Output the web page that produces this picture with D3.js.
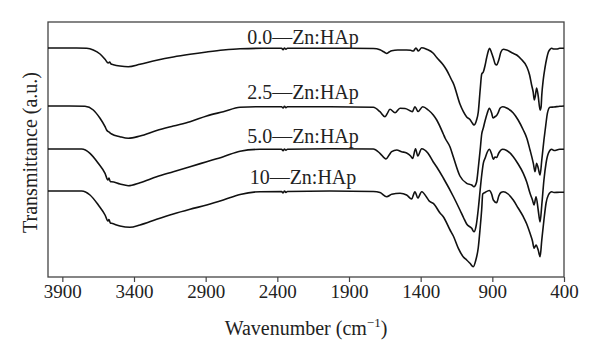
<!DOCTYPE html>
<html>
<head>
<meta charset="utf-8">
<script src="https://cdn.jsdelivr.net/npm/d3@7"></script>
<style>
  html, body { margin: 0; padding: 0; background: #fff; }
  svg text { font-family: "Liberation Serif", "DejaVu Serif", serif; fill: #222; }
</style>
</head>
<body>
<svg id="chart" width="600" height="360"></svg>
<script>
// ---- data (wavenumber cm^-1, transmittance a.u., offset stacked) ----
const seriesNames = ["0.0—Zn:HAp", "2.5—Zn:HAp", "5.0—Zn:HAp", "10—Zn:HAp"];
const xTicks = [3900, 3400, 2900, 2400, 1900, 1400, 900, 400];
const labelLevels = [233.5, 178.5, 134.5, 93.5];

const spec00 = [
  [4000,229],[3900,229],[3800,229],[3730,228.7],[3684,227],[3637,223],[3602,217.7],[3580,214],[3570,215],[3560,213],
  [3544,212.3],[3498,211],[3440,210.3],[3358,212.7],[3242,216.7],[3126,220],[3009,222.7],[2893,225],[2777,227],[2660,228.3],
  [2500,228.7],[2370,228.7],[2360,227.2],[2350,229],[2340,227.7],[2330,228.7],[2100,228.7],[1900,228.7],[1730,228.5],[1684,227.2],
  [1650,224.5],[1637,223.5],[1620,225],[1602,226.3],[1560,227],[1498,227],[1470,226.7],[1451,226],[1433,229],[1416,226],
  [1393,229.3],[1358,227.7],[1312,223.7],[1288,219.5],[1242,212],[1219,207],[1184,197],[1172,193.7],[1126,173],[1102,165.3],
  [1079,160],[1056,157.5],[1040,154],[1028,152],[1010,157],[998,165],[985,187],[974,203],[963,205],[950,212],
  [940,219],[928,226],[919,228.7],[905,224],[893,219],[880,213],[870,212],[855,217],[840,225],[823,227.7],
  [800,227],[760,224],[730,222],[700,218],[660,210.3],[640,202],[626,192],[615,185],[607,177],[600,181],
  [591,189],[580,181],[567,167],[560,170],[555,182],[545,197],[533,209],[520,219],[509,225],[495,228],
  [486,228.7],[470,228],[451,228],[430,228.7],[400,228.7]
];
const spec25 = [
  [4000,171],[3850,171],[3742,170.7],[3684,167],[3637,158.7],[3602,150.3],[3591,147],[3570,144.5],[3556,143],[3498,140.3],
  [3440,138.7],[3358,141],[3242,146.5],[3126,151],[3009,155.3],[2893,161],[2777,165.3],[2660,169.7],[2550,170.3],[2370,170.3],
  [2360,169],[2350,170.7],[2340,169.3],[2330,170.3],[2033,170.3],[1730,169.7],[1684,165.3],[1649,160.3],[1635,163],[1614,167.7],
  [1579,164.3],[1544,168.7],[1509,168.5],[1474,166.3],[1458,165.3],[1440,170.3],[1418,165.5],[1386,170.3],[1347,167],[1312,162],
  [1288,157],[1242,143],[1230,139],[1195,130],[1172,120],[1126,101],[1079,93.7],[1044,92],[1028,90.3],[1010,95],
  [998,109],[985,127],[974,143],[963,149],[951,156],[935,164],[921,168.7],[905,164],[895,159],[880,160.5],
  [870,161.5],[860,164],[845,169],[828,170.3],[800,169],[754,164],[720,157],[684,147],[660,139],[637,127],
  [614,113.7],[602,105.3],[591,113.7],[580,109],[567,102],[555,117],[540,137],[527,152],[516,163.7],[498,169.7],
  [470,170],[430,170.7],[400,171]
];
const spec50 = [
  [4000,128],[3765,128],[3707,123.7],[3649,113.7],[3602,103.7],[3582,97],[3575,99],[3565,95.3],[3556,95.3],[3498,93],
  [3440,91.3],[3358,94.3],[3242,100.3],[3126,105.3],[3009,110.3],[2893,115.3],[2777,120.3],[2660,125.8],[2521,127.7],[2370,127.7],
  [2360,126.2],[2350,128],[2340,126.7],[2330,127.7],[2033,128.3],[1730,128],[1684,123.7],[1642,118],[1620,122],[1602,125.3],
  [1567,127],[1533,125.3],[1498,124],[1470,121],[1456,118.5],[1436,128.3],[1420,121],[1393,128.3],[1350,124],[1312,115],
  [1288,110],[1242,99],[1172,80.5],[1126,67],[1100,59],[1079,53],[1044,48.7],[1028,45.3],[1012,52],[998,68],
  [985,87],[974,102],[963,113.7],[950,119],[935,125],[921,127.7],[905,123],[893,117.7],[882,120],[870,119.5],
  [855,124],[828,127.7],[800,126.5],[754,120.3],[720,113],[684,103.7],[660,95],[637,83.7],[620,77],[609,72],
  [595,80.3],[580,67],[567,55],[555,72],[540,97],[525,114],[509,123.7],[486,127.7],[470,126.5],[430,127.7],
  [400,127.7]
];
const spec10 = [
  [4000,86],[3765,86],[3707,82],[3649,72],[3602,62],[3582,56],[3575,57.5],[3565,54],[3556,53.7],[3498,51],
  [3428,49.7],[3358,52],[3242,57.7],[3126,63],[3009,67.7],[2893,72],[2777,77],[2660,82.5],[2521,85.3],[2370,85.5],
  [2360,84],[2350,86],[2340,84.5],[2330,85.5],[2033,86],[1730,85.5],[1684,84.5],[1637,80.3],[1602,82.7],[1544,83.7],
  [1498,82],[1463,78],[1440,85.3],[1420,79],[1393,85.3],[1335,75.3],[1312,73.7],[1265,64],[1242,60.3],[1195,47],
  [1172,41],[1137,28.7],[1102,20],[1079,17],[1056,13.7],[1033,10.3],[1015,17],[998,29.5],[985,49],[974,68],
  [967,83],[951,84.5],[921,86.5],[905,83],[893,77],[870,74.3],[855,81],[840,84.5],[823,85.3],[790,83],
  [754,77],[720,69],[684,60.3],[660,53],[637,43.7],[620,36],[609,28.7],[595,32],[580,27],[567,20.3],
  [555,37],[540,57],[525,74],[509,82],[486,85.3],[470,84.5],[430,84.7],[400,84.7]
];
const spectra = [spec00, spec25, spec50, spec10];

// ---- layout ----
const W = 600, H = 360;
const m = { left: 48, right: 36, top: 22, bottom: 83 };
const svg = d3.select("#chart");

const x = d3.scaleLinear().domain([4000, 400]).range([m.left, W - m.right]);
const y = d3.scaleLinear().domain([0, 255]).range([H - m.bottom, m.top]);

// frame
svg.append("rect")
  .attr("x", m.left).attr("y", m.top)
  .attr("width", W - m.left - m.right).attr("height", H - m.top - m.bottom)
  .attr("fill", "none").attr("stroke", "#444").attr("stroke-width", 1.3);

// x axis
const xAxis = d3.axisBottom(x).tickValues(xTicks).tickSize(5).tickPadding(3).tickFormat(d3.format("d"));
const gx = svg.append("g").attr("transform", `translate(0,${H - m.bottom})`).call(xAxis);
gx.select(".domain").remove();
gx.selectAll(".tick line").attr("stroke", "#444").attr("stroke-width", 1.2);
gx.selectAll(".tick text").style("font-family", '"Liberation Serif", serif').style("font-size", "19px").attr("fill", "#222");

// lines
const line = d3.line().x(d => x(d[0])).y(d => y(d[1])).curve(d3.curveMonotoneX);
svg.append("g").selectAll("path").data(spectra).join("path")
  .attr("d", line)
  .attr("fill", "none").attr("stroke", "#111").attr("stroke-width", 1.6).attr("stroke-linejoin", "round");

// series labels
svg.append("g").selectAll("text").data(seriesNames).join("text")
  .attr("x", 303).attr("y", (d, i) => y(labelLevels[i]))
  .attr("text-anchor", "middle").style("font-size", "20px")
  .text(d => d);

// axis titles
const xt = svg.append("text").attr("x", (m.left + W - m.right) / 2).attr("y", 335)
  .attr("text-anchor", "middle").style("font-size", "20px");
xt.append("tspan").text("Wavenumber (cm");
xt.append("tspan").attr("dy", -8).style("font-size", "13px").text("−1");
xt.append("tspan").attr("dy", 8).text(")");

svg.append("text")
  .attr("transform", `translate(37,${(m.top + H - m.bottom) / 2 + 3}) rotate(-90)`)
  .attr("text-anchor", "middle").style("font-size", "20px")
  .text("Transmittance (a.u.)");
</script>
</body>
</html>
